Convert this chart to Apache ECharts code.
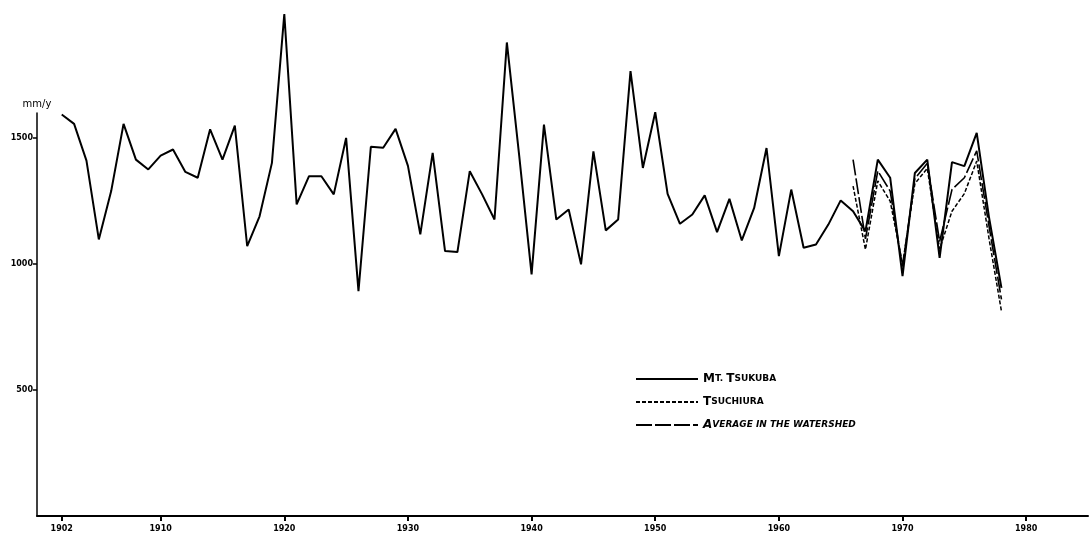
<!DOCTYPE html>
<html>
<head>
<meta charset="utf-8">
<script src="https://cdn.jsdelivr.net/npm/echarts@6/dist/echarts.min.js"></script>
<style>
  html, body { margin: 0; padding: 0; background: #fff; }
  #chart { width: 1091px; height: 543px; }
</style>
</head>
<body>
<div id="chart"></div>
<script>
// Annual precipitation (mm/y)
const tsukubaStart = 1902;
const tsukubaValues = [
  1594, 1557, 1411, 1098, 1290, 1557, 1415, 1376, 1431, 1455,
  1366, 1343, 1535, 1415, 1550, 1071, 1190, 1402, 1993, 1237,
  1349, 1349, 1277, 1501, 893, 1466, 1462, 1537, 1390, 1118,
  1442, 1052, 1048, 1369, 1277, 1177, 1880, 1430, 959, 1554,
  1177, 1217, 999, 1448, 1134, 1177, 1766, 1382, 1603, 1279,
  1160, 1197, 1273, 1127, 1259, 1094, 1223, 1461, 1032, 1296,
  1065, 1078, 1157, 1253, 1210, 1130, 1415, 1343, 952, 1362,
  1415, 1025, 1405, 1389, 1521, 1184, 906
];
const recentStart = 1966;
const tsuchiuraValues = [1310, 1058, 1330, 1250, 1000, 1320, 1380, 1060, 1210, 1280, 1409, 1100, 813];
const averageValues   = [1415, 1100, 1370, 1290, 990, 1340, 1400, 1090, 1296, 1343, 1450, 1150, 860];

const xTickYears = [1902, 1910, 1920, 1930, 1940, 1950, 1960, 1970, 1980];
const yTickValues = [500, 1000, 1500];

const seriesNames = ['Mt. Tsukuba', 'Tsuchiura', 'Average in the watershed'];

function toPairs(start, values) {
  return values.map((v, i) => [start + i, v]);
}

// small-caps rendering for legend labels
function smallCaps(name) {
  const italic = name.indexOf('Average') === 0;
  const big = italic ? 'bi' : 'b';
  const small = italic ? 'si' : 's';
  const words = name.split(' ');
  const parts = [];
  for (let w = 0; w < words.length; w++) {
    const word = words[w];
    const first = word.charAt(0);
    const rest = word.slice(1).toUpperCase();
    let out = '';
    if (first !== first.toLowerCase()) {
      out += '{' + big + '|' + first + '}';
    } else {
      out += '{' + small + '|' + first.toUpperCase() + '}';
    }
    if (rest) out += '{' + small + '|' + rest + '}';
    parts.push(out);
  }
  return parts.join('{' + small + '| }');
}

const labelFont = { fontFamily: 'DejaVu Sans', fontWeight: 'bold', fontSize: 8, color: '#000' };

const chart = echarts.init(document.getElementById('chart'), null, { renderer: 'canvas' });
chart.setOption({
  animation: false,
  backgroundColor: '#fff',
  grid: { left: 37, right: 3, top: 113, bottom: 27, containLabel: false },
  legend: {
    show: true,
    orient: 'vertical',
    left: 630,
    top: 368,
    itemWidth: 62,
    itemHeight: 12,
    itemGap: 11,
    data: seriesNames,
    formatter: smallCaps,
    itemStyle: { color: 'rgba(0,0,0,0)', borderColor: 'rgba(0,0,0,0)', borderWidth: 0 },
    textStyle: {
      color: '#000',
      rich: {
        b:  { fontFamily: 'DejaVu Sans', fontWeight: 'bold', fontSize: 12, color: '#000' },
        s:  { fontFamily: 'DejaVu Sans', fontWeight: 'bold', fontSize: 9,  color: '#000' },
        bi: { fontFamily: 'DejaVu Sans', fontWeight: 'bold', fontStyle: 'italic', fontSize: 12, color: '#000' },
        si: { fontFamily: 'DejaVu Sans', fontWeight: 'bold', fontStyle: 'italic', fontSize: 9,  color: '#000' }
      }
    }
  },
  xAxis: {
    type: 'value',
    min: 1900,
    max: 1985,
    axisLine: { show: true, lineStyle: { color: '#000', width: 2 } },
    axisTick: { show: true, inside: false, length: 5, customValues: xTickYears, lineStyle: { color: '#000', width: 2 } },
    axisLabel: Object.assign({ customValues: xTickYears, margin: 9, formatter: v => String(v) }, labelFont),
    splitLine: { show: false }
  },
  yAxis: {
    type: 'value',
    min: 0,
    max: 1600,
    name: 'mm/y',
    nameLocation: 'end',
    nameGap: 4,
    nameTextStyle: { fontFamily: 'DejaVu Sans', fontSize: 10, color: '#000', align: 'center' },
    axisLine: { show: true, lineStyle: { color: '#000', width: 1.5 } },
    axisTick: { show: true, inside: false, length: 4, customValues: yTickValues, lineStyle: { color: '#000', width: 1.5 } },
    axisLabel: Object.assign({ customValues: yTickValues, margin: 4, formatter: v => String(v) }, labelFont),
    splitLine: { show: false }
  },
  series: [
    {
      name: seriesNames[0],
      type: 'line',
      clip: false,
      symbol: 'none',
      data: toPairs(tsukubaStart, tsukubaValues),
      lineStyle: { color: '#000', width: 2 },
      itemStyle: { color: '#000' },
      z: 3
    },
    {
      name: seriesNames[1],
      type: 'line',
      clip: false,
      symbol: 'none',
      data: toPairs(recentStart, tsuchiuraValues),
      lineStyle: { color: '#000', width: 1.5, type: [4, 2] },
      itemStyle: { color: '#000' },
      z: 2
    },
    {
      name: seriesNames[2],
      type: 'line',
      clip: false,
      symbol: 'none',
      data: toPairs(recentStart, averageValues),
      lineStyle: { color: '#000', width: 1.6, type: [16, 3] },
      itemStyle: { color: '#000' },
      z: 2
    }
  ]
});
</script>
</body>
</html>
